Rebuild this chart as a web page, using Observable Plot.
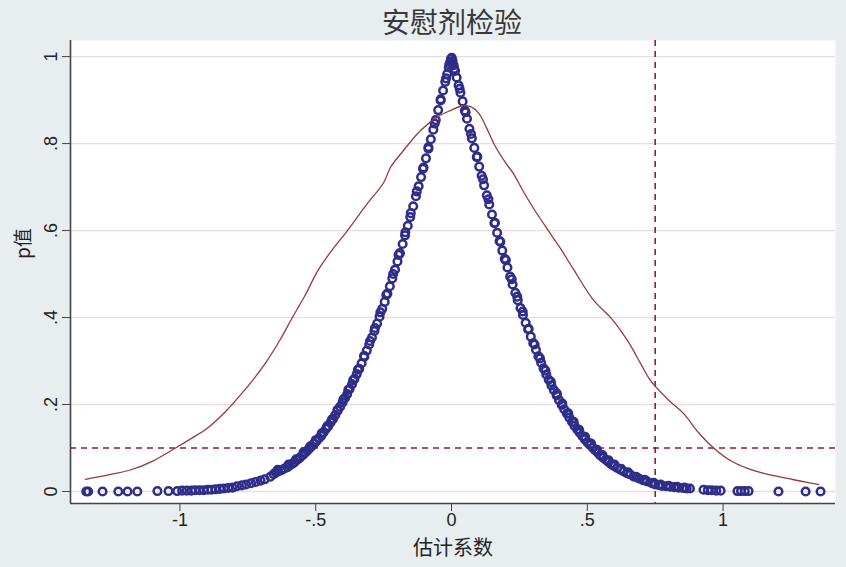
<!DOCTYPE html>
<html>
<head>
<meta charset="utf-8">
<script src="https://cdn.jsdelivr.net/npm/d3@7"></script>
<script src="https://cdn.jsdelivr.net/npm/@observablehq/plot@0.6"></script>
<style>
  html, body { margin: 0; padding: 0; background: #e8eef0; }
  #wrap { position: relative; width: 846px; height: 567px; overflow: hidden; }
  #title { position: absolute; left: 452px; top: 3px; transform: translateX(-50%);
    font-family: "Noto Sans CJK SC", sans-serif; font-size: 28px; color: #383838; white-space: nowrap; line-height: 36px; }
  #chart { position: absolute; left: 0; top: 40px; }
</style>
</head>
<body>
<div id="wrap">
  <div id="title">安慰剂检验</div>
  <div id="chart"></div>
</div>
<script>
// Estimated coefficients (placebo regressions) and their p-values
const coef = [
 -1.345,-1.338,-1.285,-1.227,-1.193,-1.157,-1.083,-1.042,-1.010,-0.992,-0.975,-0.958,-0.944,-0.928,-0.912,-0.897,-0.884,-0.869,-0.853,-0.838,
 -0.822,-0.806,-0.790,-0.772,-0.756,-0.738,-0.721,-0.703,-0.688,-0.667,-0.655,-0.646,-0.638,-0.626,-0.615,-0.604,-0.596,-0.585,-0.577,-0.566,
 -0.558,-0.547,-0.539,-0.531,-0.523,-0.515,-0.506,-0.497,-0.489,-0.480,-0.471,-0.462,-0.454,-0.445,-0.436,-0.428,-0.419,-0.410,-0.401,-0.392,
 -0.384,-0.375,-0.366,-0.357,-0.349,-0.340,-0.331,-0.321,-0.312,-0.303,-0.293,-0.284,-0.274,-0.265,-0.255,-0.246,-0.236,-0.227,-0.218,-0.208,
 -0.199,-0.190,-0.180,-0.171,-0.161,-0.152,-0.141,-0.131,-0.121,-0.112,-0.103,-0.094,-0.085,-0.076,-0.067,-0.058,-0.049,-0.040,-0.031,-0.023,
 -0.016,-0.010,-0.005,-0.002,
 0.001,0.004,0.008,0.013,0.019,0.026,0.033,0.041,0.049,0.057,0.066,0.075,0.084,0.093,0.102,0.111,0.120,0.130,0.139,0.149,
 0.158,0.168,0.177,0.187,0.196,0.206,0.216,0.225,0.235,0.244,0.254,0.263,0.273,0.282,0.292,0.301,0.311,0.320,0.330,0.339,
 0.349,0.358,0.368,0.377,0.387,0.396,0.406,0.415,0.425,0.434,0.444,0.453,0.463,0.472,0.482,0.491,0.501,0.510,0.520,0.529,
 0.539,0.548,0.558,0.568,0.578,0.588,0.598,0.610,0.622,0.634,0.646,0.658,0.672,0.690,0.705,0.720,0.738,0.750,0.762,0.775,
 0.790,0.805,0.820,0.836,0.852,0.866,0.878,0.928,0.944,0.958,0.975,0.991,1.053,1.066,1.080,1.094,1.204,1.304,1.359
];
const pval = [
 0.000,0.000,0.000,0.000,0.000,0.000,0.001,0.001,0.001,0.002,0.002,0.002,0.003,0.003,0.003,0.004,0.004,0.005,0.006,0.007,
 0.008,0.009,0.012,0.014,0.016,0.019,0.022,0.025,0.028,0.034,0.040,0.044,0.046,0.049,0.053,0.056,0.060,0.064,0.068,0.074,
 0.078,0.084,0.089,0.094,0.099,0.104,0.110,0.116,0.122,0.128,0.136,0.144,0.150,0.159,0.167,0.176,0.186,0.195,0.205,0.215,
 0.224,0.236,0.247,0.259,0.270,0.282,0.295,0.310,0.324,0.338,0.354,0.369,0.386,0.402,0.420,0.436,0.455,0.472,0.490,0.510,
 0.529,0.548,0.569,0.589,0.611,0.631,0.656,0.679,0.702,0.723,0.745,0.766,0.788,0.810,0.832,0.854,0.877,0.899,0.922,0.942,
 0.960,0.975,0.987,0.995,
 0.997,0.990,0.980,0.967,0.952,0.934,0.917,0.897,0.876,0.857,0.834,0.812,0.790,0.769,0.747,0.726,0.704,0.681,0.660,0.637,
 0.617,0.595,0.576,0.554,0.535,0.515,0.494,0.476,0.457,0.440,0.422,0.406,0.388,0.373,0.356,0.341,0.326,0.311,0.296,0.283,
 0.269,0.257,0.244,0.233,0.221,0.210,0.199,0.189,0.179,0.170,0.160,0.151,0.143,0.135,0.127,0.120,0.113,0.107,0.101,0.095,
 0.089,0.083,0.078,0.073,0.068,0.063,0.059,0.054,0.050,0.046,0.042,0.039,0.034,0.030,0.026,0.023,0.019,0.016,0.015,0.013,
 0.012,0.011,0.010,0.009,0.008,0.007,0.007,0.004,0.003,0.003,0.002,0.002,0.001,0.001,0.001,0.001,0.000,0.000,0.000
];
// Further estimates lying beside the main band (thicken the branches)
const coefB = [
 -0.640,-0.600,-0.572,-0.545,-0.520,-0.500,-0.478,-0.458,-0.440,-0.420,-0.398,-0.380,-0.362,-0.345,-0.322,-0.300,-0.282,-0.262,-0.240,-0.215,
 -0.195,-0.170,-0.150,-0.128,-0.105,-0.085,-0.062,-0.040,-0.020,-0.008,
 0.010,0.030,0.052,0.072,0.095,0.116,0.136,0.160,0.180,0.200,0.222,0.242,0.262,0.284,0.306,0.326,0.346,0.366,0.388,0.408,
 0.430,0.450,0.470,0.492,0.514,0.536,0.556,0.578,0.600,0.625,0.650,0.680,0.712,0.745,0.770,0.800,0.830,0.858
];
const pvalB = [
 0.050,0.062,0.074,0.090,0.104,0.118,0.134,0.150,0.166,0.188,0.212,0.234,0.256,0.280,0.312,0.346,0.376,0.412,0.452,0.500,
 0.544,0.596,0.640,0.690,0.742,0.792,0.846,0.902,0.950,0.982,
 0.972,0.926,0.872,0.822,0.770,0.718,0.672,0.618,0.574,0.532,0.488,0.448,0.414,0.374,0.338,0.306,0.278,0.252,0.225,0.202,
 0.180,0.160,0.142,0.126,0.110,0.096,0.084,0.072,0.062,0.052,0.044,0.034,0.027,0.020,0.016,0.013,0.011,0.009
];

// Kernel density of the estimated coefficients (drawn on the same axis)
const kdX = [-1.348,-1.25,-1.18,-1.10,-1.016,-0.95,-0.90,-0.83,-0.78,-0.733,-0.68,-0.63,-0.586,-0.54,-0.49,-0.44,-0.383,-0.33,-0.31,-0.25,
  -0.225,-0.177,-0.114,-0.05,0.00,0.04,0.07,0.10,0.13,0.16,0.20,0.228,0.26,0.30,0.354,0.40,0.45,0.523,0.59,0.65,0.70,0.733,
  0.80,0.855,0.91,0.965,1.03,1.09,1.16,1.238,1.30,1.352];
const kdY = [0.028,0.040,0.050,0.070,0.100,0.125,0.145,0.185,0.220,0.255,0.300,0.350,0.400,0.450,0.510,0.555,0.600,0.645,0.662,0.710,
  0.745,0.784,0.830,0.862,0.877,0.887,0.885,0.870,0.835,0.795,0.755,0.731,0.695,0.653,0.602,0.560,0.510,0.440,0.397,0.345,0.290,0.255,
  0.210,0.179,0.135,0.100,0.070,0.053,0.040,0.030,0.022,0.016];

const refX = [0.75];   // vertical reference line (true estimate)
const refY = [0.1];    // horizontal reference line (p = 0.1)

const xTicks = [-1, -0.5, 0, 0.5, 1];
const xTickLabels = ["-1", "-.5", "0", ".5", "1"];
const yTicks = [0, 0.2, 0.4, 0.6, 0.8, 1];
const yTickLabels = ["0", ".2", ".4", ".6", ".8", "1"];

const points = coef.map((c, i) => ({coef: c, p: pval[i]}))
  .concat(coefB.map((c, i) => ({coef: c, p: pvalB[i]})));
const kd = kdX.map((x, i) => ({x, y: kdY[i]}));

const xDomain = [-1.403, 1.414];
const yDomain = [-0.0276, 1.037];

const chart = Plot.plot({
  width: 846,
  height: 527,
  marginLeft: 70,
  marginRight: 11,
  marginTop: 0,
  marginBottom: 64,
  x: {domain: xDomain},
  y: {domain: yDomain},
  style: {background: "transparent", fontFamily: "'Liberation Sans', Arial, sans-serif", fontSize: "18px", color: "#222"},
  marks: [
    Plot.frame({fill: "#ffffff", stroke: "none"}),
    Plot.gridY(yTicks, {stroke: "#ecdcdd", strokeOpacity: 1, strokeWidth: 1.3}),
    Plot.ruleY(refY, {stroke: "#8e1d3b", strokeWidth: 1.6, strokeDasharray: "6,5"}),
    Plot.ruleX(refX, {stroke: "#8e1d3b", strokeWidth: 1.6, strokeDasharray: "6,5"}),
    Plot.dot(points, {x: "coef", y: "p", r: 3.8, stroke: "#2e2e8a", strokeWidth: 2.5, fill: "none"}),
    Plot.line(kd, {x: "x", y: "y", stroke: "#943b3b", strokeWidth: 1.3, curve: "catmull-rom"}),
    Plot.ruleX([xDomain[0]], {stroke: "#444", strokeWidth: 1.6}),
    Plot.ruleY([yDomain[0]], {stroke: "#444", strokeWidth: 1.6}),
    Plot.axisX(xTicks, {tickFormat: (d, i) => xTickLabels[i], tickSize: 8, tickPadding: 2, stroke: "#444", fill: "#222", label: null, fontSize: 18}),
    Plot.axisY(yTicks, {tickFormat: (d, i) => yTickLabels[i], tickSize: 8, tickPadding: 6, tickRotate: -90, stroke: "#444", fill: "#222", label: null, fontSize: 18}),
    Plot.text(["估计系数"], {frameAnchor: "bottom", dy: 51, fontFamily: "'Noto Sans CJK SC', sans-serif", fontSize: 20, fill: "#222"}),
    Plot.text(["p值"], {frameAnchor: "left", dx: -47, dy: -13, rotate: -90, fontFamily: "'Noto Sans CJK SC', sans-serif", fontSize: 19, fill: "#222"})
  ]
});
document.getElementById("chart").appendChild(chart);
</script>
</body>
</html>
